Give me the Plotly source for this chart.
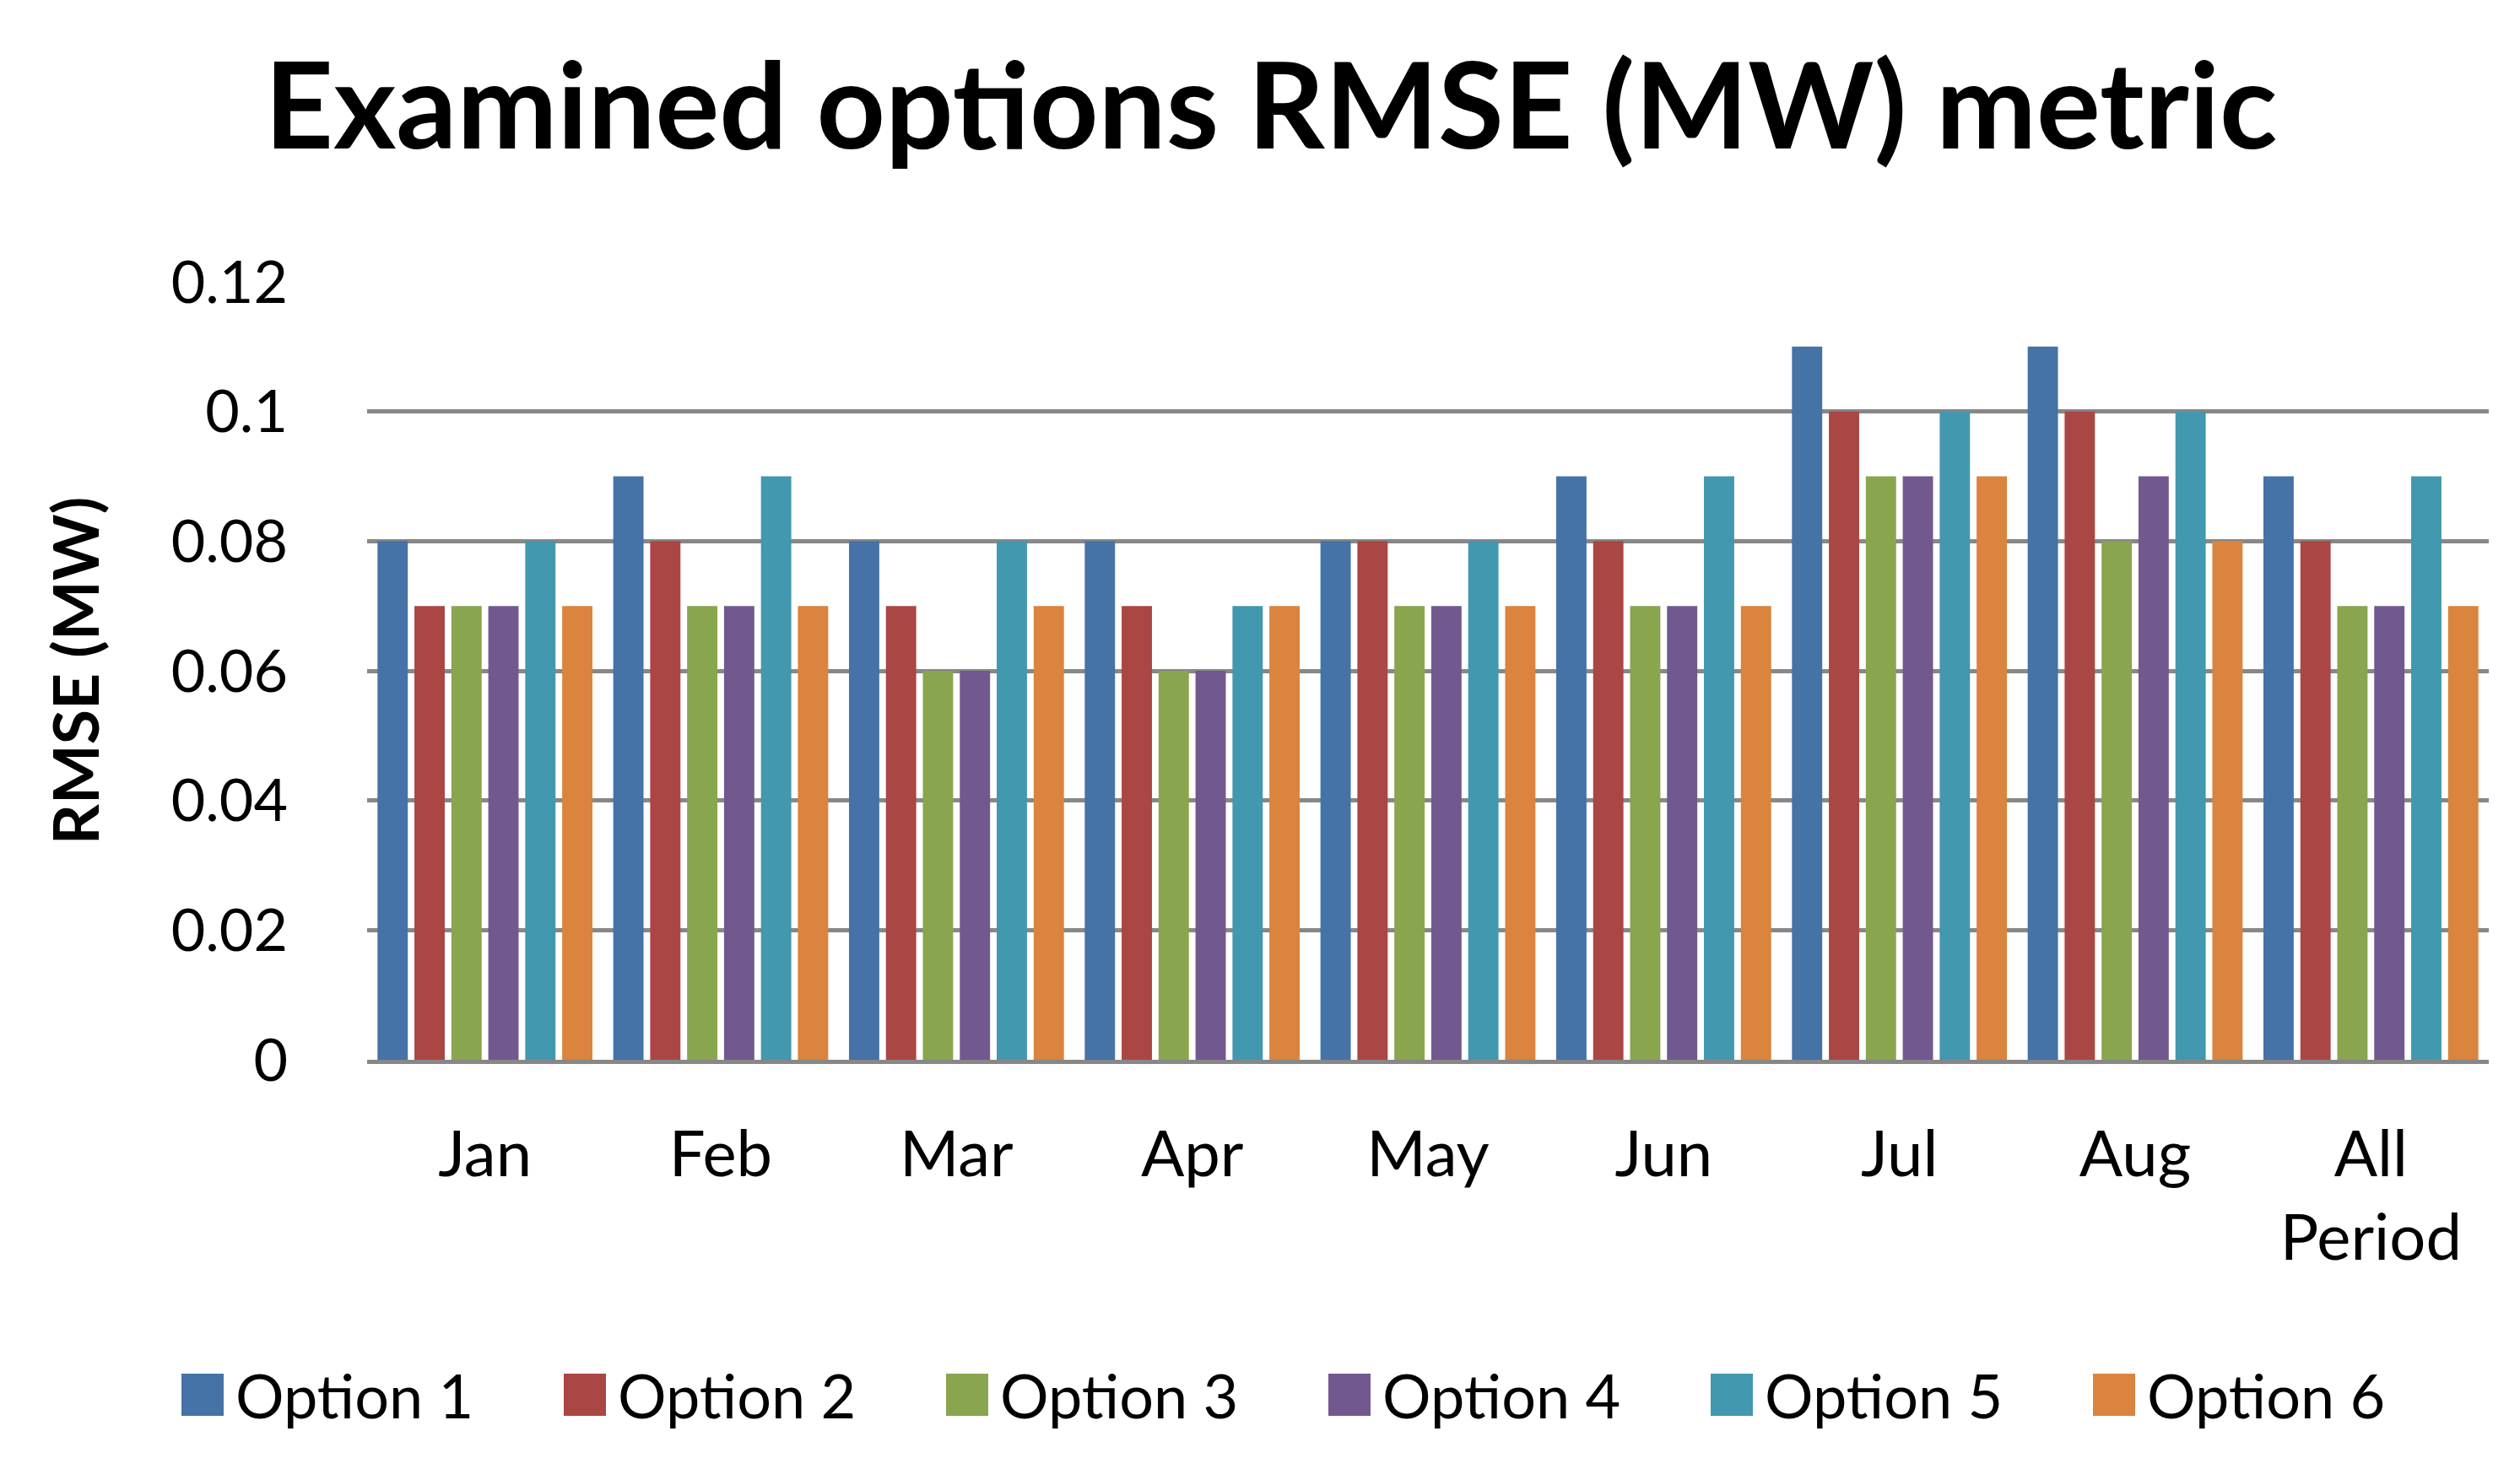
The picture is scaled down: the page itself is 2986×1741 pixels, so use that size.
import plotly.graph_objects as go

categories = ["Jan", "Feb", "Mar", "Apr", "May", "Jun", "Jul", "Aug", "All Period"]
series_names = ["Option 1", "Option 2", "Option 3", "Option 4", "Option 5", "Option 6"]
option1 = [0.08, 0.09, 0.08, 0.08, 0.08, 0.09, 0.11, 0.11, 0.09]
option2 = [0.07, 0.08, 0.07, 0.07, 0.08, 0.08, 0.10, 0.10, 0.08]
option3 = [0.07, 0.07, 0.06, 0.06, 0.07, 0.07, 0.09, 0.08, 0.07]
option4 = [0.07, 0.07, 0.06, 0.06, 0.07, 0.07, 0.09, 0.09, 0.07]
option5 = [0.08, 0.09, 0.08, 0.07, 0.08, 0.09, 0.10, 0.10, 0.09]
option6 = [0.07, 0.07, 0.07, 0.07, 0.07, 0.07, 0.09, 0.08, 0.07]
series_values = [option1, option2, option3, option4, option5, option6]
colors = ["#4572A7", "#AA4643", "#89A54E", "#71588F", "#4198AF", "#DB843D"]
y_tick_vals = [0, 0.02, 0.04, 0.06, 0.08, 0.10, 0.12]
y_tick_text = ["0", "0.02", "0.04", "0.06", "0.08", "0.1", "0.12"]
x_tick_text = [c.replace(" ", "<br>") for c in categories]

W, H = 2986, 1741
PL, PR, PT, PB = 427, 2941, 326, 1248
FONT = "Lato"

fig = go.Figure()
for name, vals, col in zip(series_names, series_values, colors):
    fig.add_trace(go.Bar(name=name, x=categories, y=vals, marker=dict(color=col, line=dict(width=0)),
                         showlegend=False))

def px_x(p):
    return (p - PL) / (PR - PL)

def px_y(p):
    return (PB - p) / (PB - PT)

# custom legend (large square swatches like the original)
leg_x0, leg_pitch, sw, leg_cy = 207, 453, 50, 1645
shapes = []
annotations = []
for i, (name, col) in enumerate(zip(series_names, colors)):
    x0 = leg_x0 + i * leg_pitch
    shapes.append(dict(type="rect", xref="paper", yref="paper",
                       x0=px_x(x0), x1=px_x(x0 + sw),
                       y0=px_y(leg_cy - sw / 2), y1=px_y(leg_cy + sw / 2),
                       fillcolor=col, line=dict(width=0)))
    annotations.append(dict(xref="paper", yref="paper", x=px_x(x0 + sw + 12), y=px_y(leg_cy),
                            xanchor="left", yanchor="middle", text=name, showarrow=False,
                            font=dict(family=FONT, size=72, color="black")))

fig.update_layout(
    width=W, height=H,
    margin=dict(l=PL, r=W - PR, t=PT, b=H - PB, pad=0),
    paper_bgcolor="white", plot_bgcolor="white",
    barmode="group", bargap=0.06, bargroupgap=0.18,
    title=dict(text="Examined options RMSE (MW) metric", xref="container", x=1498 / W,
               xanchor="center", yref="container", y=1 - 118 / H, yanchor="middle",
               font=dict(family=FONT, size=142, color="black", weight="bold")),
    shapes=shapes, annotations=annotations,
)
fig.update_xaxes(tickvals=categories, ticktext=x_tick_text, showgrid=False,
                 showline=True, linecolor="#878787", linewidth=5,
                 ticks="", ticklabelstandoff=42,
                 tickfont=dict(family=FONT, size=76, color="black"))
fig.update_yaxes(range=[0, 0.12], tickvals=y_tick_vals, ticktext=y_tick_text,
                 showgrid=True, gridcolor="#878787", gridwidth=5, zeroline=False,
                 showline=False, ticks="", ticklabelstandoff=93,
                 tickfont=dict(family=FONT, size=70, color="black"),
                 title=dict(text="RMSE (MW)", standoff=60,
                            font=dict(family=FONT, size=75, color="black", weight="bold")))

fig.write_html("out.html")
